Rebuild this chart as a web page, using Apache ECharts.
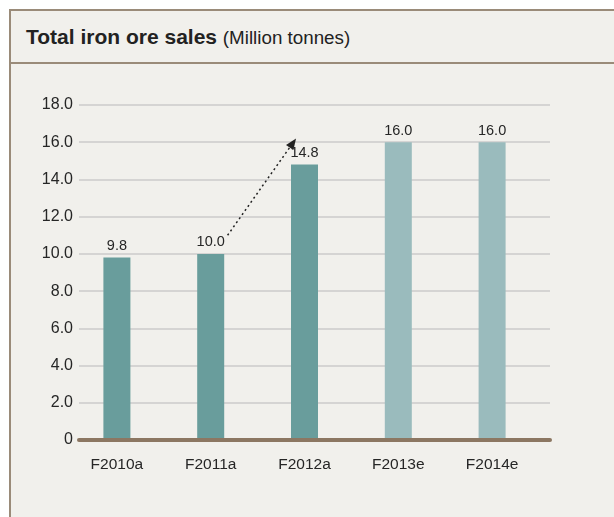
<!DOCTYPE html>
<html>
<head>
<meta charset="utf-8">
<script src="https://cdn.jsdelivr.net/npm/echarts@6/dist/echarts.min.js"></script>
<style>
    html, body { margin: 0; padding: 0; background: #ffffff; }
    #wrap { position: relative; width: 614px; height: 517px; overflow: hidden; }
    #panel {
        position: absolute; left: 9px; top: 9px; width: 620px; height: 520px;
        background: #f1f0ec; border-left: 2px solid #9a8b79; border-top: 2px solid #9a8b79;
    }
    #head {
        position: absolute; left: 0; top: 0; width: 100%; height: 51px;
        border-bottom: 2px solid #9a8b79;
        font-family: 'Liberation Sans', Arial, sans-serif; color: #222;
    }
    #head .t { position: absolute; left: 15px; top: 14px; font-size: 21px; font-weight: bold; white-space: nowrap; }
    #head .t span { font-weight: normal; font-size: 18.8px; }
    #chart { position: absolute; left: 0; top: 0; width: 614px; height: 517px; }
</style>
</head>
<body>
<div id="wrap">
    <div id="panel">
        <div id="head"><div class="t">Total iron ore sales <span>(Million tonnes)</span></div></div>
    </div>
    <div id="chart"></div>
</div>
<script>
const years = ['F2010a', 'F2011a', 'F2012a', 'F2013e', 'F2014e'];
const sales = [9.8, 10.0, 14.8, 16.0, 16.0];
const isEstimate = [false, false, false, true, true];
// arrow from above F2011a towards F2012a (category position, value)
const arrowFrom = [1.18, 11.0];
const arrowTo = [1.91, 16.2];

const font = "'Liberation Sans', Arial, sans-serif";
const chart = echarts.init(document.getElementById('chart'));

chart.setOption({
    animation: false,
    backgroundColor: 'transparent',
    // grid 0 carries the value scale and baseline, grid 1 the bars (shifted a bit left like the original)
    grid: [
        { left: 79, right: 64, top: 105, bottom: 77 },
        { left: 70, right: 75, top: 105, bottom: 77 }
    ],
    xAxis: [{
        type: 'category',
        gridIndex: 0,
        data: years,
        z: 5,
        axisTick: { show: false },
        axisLabel: { show: false },
        axisLine: { lineStyle: { color: '#8c7762', width: 4 } }
    }, {
        type: 'category',
        gridIndex: 1,
        data: years,
        axisTick: { show: false },
        axisLine: { show: false },
        axisLabel: { color: '#262626', fontSize: 15.5, fontFamily: font, margin: 17 }
    }],
    yAxis: [{
        type: 'value',
        gridIndex: 0,
        min: 0,
        max: 18,
        interval: 2,
        axisLine: { show: false },
        axisTick: { show: false },
        axisLabel: {
            color: '#262626', fontSize: 16, fontFamily: font, margin: 6,
            formatter: v => v === 0 ? '0' : v.toFixed(1)
        },
        splitLine: { lineStyle: { color: '#cbcbcb', width: 1.5 } }
    }, {
        type: 'value',
        gridIndex: 1,
        min: 0,
        max: 18,
        interval: 2,
        show: false
    }],
    series: [{
        type: 'bar',
        xAxisIndex: 1,
        yAxisIndex: 1,
        barWidth: 27,
        data: sales.map((v, i) => ({
            value: v,
            itemStyle: { color: isEstimate[i] ? '#9abbbd' : '#699d9c' }
        })),
        label: {
            show: true, position: 'top', distance: 4,
            color: '#262626', fontSize: 14.5, fontFamily: font,
            formatter: p => p.value.toFixed(1)
        }
    }]
});

function toPixel(pt) {
    const i = Math.floor(pt[0]);
    const finder = { xAxisIndex: 1, yAxisIndex: 1 };
    const a = chart.convertToPixel(finder, [i, pt[1]]);
    const b = chart.convertToPixel(finder, [i + 1, pt[1]]);
    return [a[0] + (b[0] - a[0]) * (pt[0] - i), a[1]];
}

const p1 = toPixel(arrowFrom);
const p2 = toPixel(arrowTo);
const ang = Math.atan2(p2[1] - p1[1], p2[0] - p1[0]);
const hl = 11, hw = 4.5;
const base = [p2[0] - hl * Math.cos(ang), p2[1] - hl * Math.sin(ang)];
const nx = -Math.sin(ang), ny = Math.cos(ang);

chart.setOption({
    graphic: [
        {
            type: 'line',
            shape: { x1: p1[0], y1: p1[1], x2: base[0], y2: base[1] },
            style: { stroke: '#222', lineWidth: 1.5, lineDash: [2, 3] }
        },
        {
            type: 'polygon',
            shape: { points: [p2, [base[0] + nx * hw, base[1] + ny * hw], [base[0] - nx * hw, base[1] - ny * hw]] },
            style: { fill: '#222' }
        }
    ]
});
</script>
</body>
</html>
